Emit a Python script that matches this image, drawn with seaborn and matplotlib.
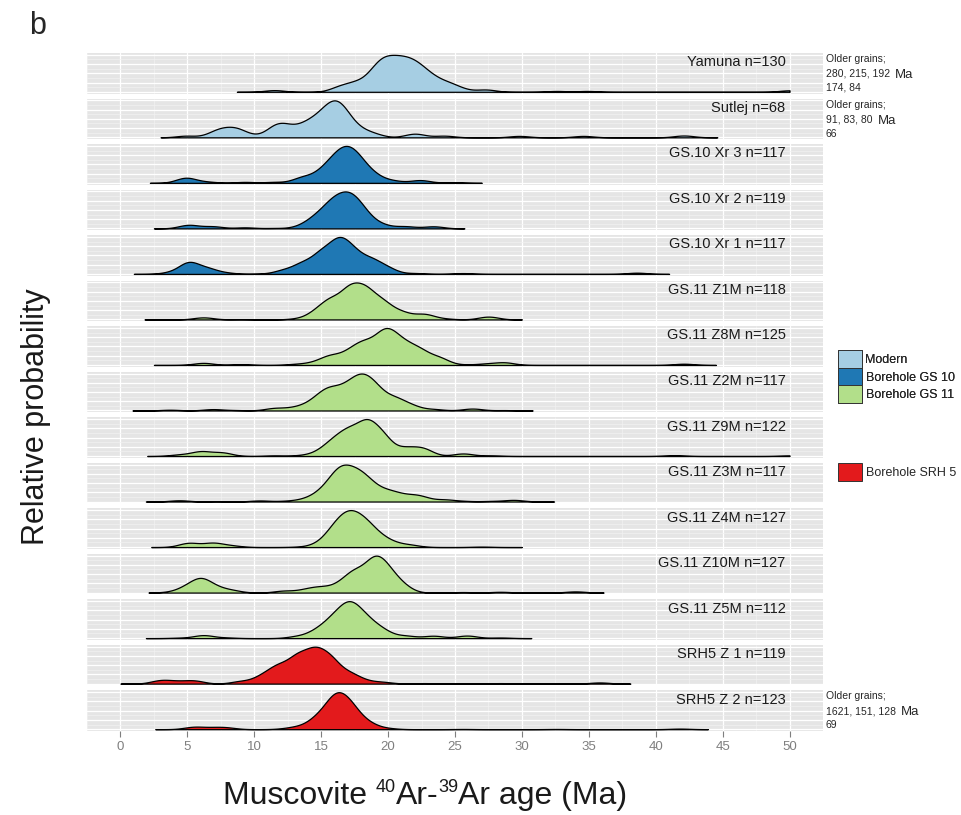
import numpy as np
import seaborn as sns
import matplotlib.pyplot as plt
from matplotlib.patches import Patch
from matplotlib.ticker import MultipleLocator

# sample labels (top to bottom) and their group
samples = ['Yamuna n=130', 'Sutlej n=68', 'GS.10 Xr 3 n=117', 'GS.10 Xr 2 n=119',
           'GS.10 Xr 1 n=117', 'GS.11 Z1M n=118', 'GS.11 Z8M n=125', 'GS.11 Z2M n=117',
           'GS.11 Z9M n=122', 'GS.11 Z3M n=117', 'GS.11 Z4M n=127', 'GS.11 Z10M n=127',
           'GS.11 Z5M n=112', 'SRH5 Z 1 n=119', 'SRH5 Z 2 n=123']
groups = ['Modern', 'Modern', 'Borehole GS 10', 'Borehole GS 10', 'Borehole GS 10',
          'Borehole GS 11', 'Borehole GS 11', 'Borehole GS 11', 'Borehole GS 11',
          'Borehole GS 11', 'Borehole GS 11', 'Borehole GS 11', 'Borehole GS 11',
          'Borehole SRH 5', 'Borehole SRH 5']
group_colors = {'Modern': '#A6CEE3', 'Borehole GS 10': '#1F78B4',
                'Borehole GS 11': '#B2DF8A', 'Borehole SRH 5': '#E31A1C'}

# grain age clusters (Ma) and relative weights
yamuna_age = [8.7, 11.5, 16.4, 17.6, 18.9, 19.7, 20.6, 21.5, 22.4, 23.4, 24.5, 25.4, 27.3, 32.6, 34.9, 50.0]
yamuna_w = [0, .09, .25, .39, .68, .98, .95, .95, .8, .48, .32, .12, .12, .045, .045, .08]
sutlej_age = [3.0, 4.9, 7.1, 7.9, 8.8, 10.1, 11.6, 12.6, 13.9, 15.0, 15.9, 16.7, 17.8, 18.9, 22.0, 24.2, 29.8, 34.6, 42.1, 44.6]
sutlej_w = [0, .08, .22, .24, .31, .05, .5, .36, .53, .7, 1.0, .82, .29, .15, .18, .08, .07, .07, .09, 0]
xr3_age = [2.2, 4.9, 6.5, 9.3, 11.5, 13.6, 15.0, 16.0, 16.9, 17.8, 18.9, 20.3, 22.4, 24.9, 27.0]
xr3_w = [0, .24, .05, .045, .045, .25, .4, .76, 1.0, .76, .31, .1, .13, .03, 0]
xr2_age = [2.5, 5.1, 6.9, 9.3, 11.5, 13.6, 14.6, 15.7, 16.7, 17.6, 18.5, 19.6, 21.3, 23.4, 25.7]
xr2_w = [0, .17, .1, .05, .02, .11, .42, .87, 1.0, .87, .33, .13, .1, .1, 0]
xr1_age = [1.0, 3.7, 5.1, 6.5, 7.9, 10.4, 12.2, 13.6, 15.0, 16.3, 17.4, 18.7, 19.9, 22.0, 25.6, 38.6, 41.0]
xr1_w = [0, .05, .4, .18, .04, .01, .13, .34, .65, 1.0, .61, .43, .2, .03, .03, .045, 0]
z1m_age = [1.8, 6.2, 9.0, 13.2, 14.6, 15.7, 17.1, 18.3, 19.6, 21.0, 22.7, 24.2, 27.5, 30.0]
z1m_w = [0, .08, .01, .03, .25, .62, 1.0, .94, .57, .25, .2, .03, .11, 0]
z8m_age = [2.5, 6.2, 9.0, 13.2, 14.6, 15.7, 17.1, 18.2, 19.5, 20.3, 21.3, 22.4, 23.8, 25.6, 27.3, 28.7, 42.1, 44.5]
z8m_w = [0, .1, .04, .05, .11, .38, .5, .82, 1.0, .86, .65, .56, .32, .02, .06, .12, .06, 0]
z2m_age = [0.9, 3.7, 6.9, 8.6, 11.5, 12.9, 13.9, 14.8, 15.6, 16.6, 17.5, 18.3, 19.2, 20.5, 21.7, 23.4, 26.3, 28.7, 30.8]
z2m_w = [0, .04, .07, .02, .12, .11, .18, .41, .71, .64, .87, 1.0, .73, .52, .23, .07, .1, .02, 0]
z9m_age = [2.0, 4.4, 6.0, 7.6, 11.5, 13.6, 15.0, 16.0, 17.1, 18.4, 19.6, 21.3, 22.6, 25.6, 27.7, 41.4, 50.0]
z9m_w = [0, .05, .16, .12, .02, .03, .15, .43, .7, 1.0, .61, .25, .25, .09, .02, .03, .02]
z3m_age = [1.9, 4.4, 7.2, 10.4, 12.5, 13.9, 15.0, 16.0, 16.7, 17.6, 18.5, 19.6, 20.5, 21.5, 22.4, 24.2, 25.6, 27.7, 29.4, 32.4]
z3m_w = [0, .07, .02, .06, .04, .13, .4, .85, .98, .98, .76, .38, .31, .18, .25, .11, .03, .03, .09, 0]
z4m_age = [2.3, 5.1, 6.9, 8.3, 13.2, 14.6, 15.7, 16.6, 17.5, 18.5, 19.6, 20.6, 21.7, 27.0, 30.0]
z4m_w = [0, .2, .2, .07, .01, .09, .5, .91, 1.0, .77, .32, .11, .09, .02, 0]
z10m_age = [2.1, 3.7, 4.9, 6.0, 7.1, 8.3, 12.2, 13.9, 15.0, 16.4, 17.5, 18.9, 19.9, 21.0, 25.6, 28.4, 34.0, 36.1]
z10m_w = [0, .02, .17, .45, .15, .08, .07, .11, .17, .25, .65, 1.0, .65, .25, .02, .03, .045, 0]
z5m_age = [1.9, 4.4, 6.2, 7.9, 13.2, 14.6, 15.7, 16.7, 17.5, 18.5, 19.6, 21.3, 23.4, 25.9, 28.4, 30.7]
z5m_w = [0, .02, .15, .03, .09, .3, .64, .96, .98, .62, .33, .12, .12, .13, .03, 0]
srh1_age = [0.0, 3.0, 4.2, 5.5, 9.0, 10.6, 11.8, 13.2, 14.5, 15.7, 17.1, 18.2, 19.6, 22.7, 28.4, 35.8, 38.1]
srh1_w = [0, .12, .07, .11, .09, .25, .55, .85, 1.0, .77, .32, .09, .06, .02, .02, .045, 0]
srh2_age = [2.6, 5.5, 6.9, 7.9, 12.2, 13.2, 14.6, 15.7, 16.4, 17.3, 18.5, 19.9, 25.6, 32.6, 41.8, 43.9]
srh2_w = [0, .12, .07, .08, .02, .11, .45, .84, 1.0, .82, .27, .05, .01, .01, .03, 0]

ages = [yamuna_age, sutlej_age, xr3_age, xr2_age, xr1_age, z1m_age, z8m_age, z2m_age,
        z9m_age, z3m_age, z4m_age, z10m_age, z5m_age, srh1_age, srh2_age]
weights = [yamuna_w, sutlej_w, xr3_w, xr2_w, xr1_w, z1m_w, z8m_w, z2m_w,
           z9m_w, z3m_w, z4m_w, z10m_w, z5m_w, srh1_w, srh2_w]

# older grains noted beside some panels
older_idx = [0, 1, 14]
older_ages = ['280, 215, 192', '91, 83, 80', '1621, 151, 128']
older_more = ['174, 84', '66', '69']

# x-axis title pieces: (text, superscript?)
xlabel_parts = [('Muscovite ', False), ('40', True), ('Ar-', False), ('39', True), ('Ar age (Ma)', False)]

bandwidth = 0.75  # Ma

sns.set_style('darkgrid', {'axes.facecolor': '#E5E5E5', 'grid.color': 'white'})
plt.rcParams['font.family'] = ['Liberation Sans', 'DejaVu Sans']

W, H = 961, 815
fig, axes = plt.subplots(15, 1, figsize=(W / 100, H / 100), dpi=100, sharex=True)
fig.subplots_adjust(left=87 / W, right=823 / W, top=1 - 53 / H, bottom=1 - 731 / H, hspace=0.12)

for i, ax in enumerate(axes):
    a = np.array(ages[i], float)
    w = np.array(weights[i], float)
    sd = np.sqrt(np.cov(a, aweights=w))
    sns.kdeplot(x=a, weights=w, ax=ax, fill=True, cut=0, bw_method=bandwidth / sd,
                gridsize=800, color=group_colors[groups[i]], alpha=1,
                edgecolor='black', linewidth=0.9)
    top = ax.collections[-1].get_paths()[0].vertices[:, 1].max()
    ax.set_ylim(-0.05 * top, 1.05 * top)
    ax.set_xlim(-2.5, 52.5)
    ax.set_ylabel('')
    ax.set_xticks(range(0, 51, 5))
    ax.xaxis.set_minor_locator(MultipleLocator(2.5))
    ax.set_yticks(np.arange(0, 1.01, 0.25) * top)
    ax.set_yticks(np.arange(0.125, 1.1, 0.25) * top, minor=True)
    ax.grid(which='major', color='white', linewidth=0.9)
    ax.grid(which='minor', color='#F2F2F2', linewidth=0.45)
    ax.set_axisbelow(True)
    for s in ax.spines.values():
        s.set_visible(False)
    ax.tick_params(axis='y', which='both', left=False, labelleft=False)
    ax.tick_params(axis='x', which='both', length=0)
    ax.text(49.7, 0.77, samples[i], transform=ax.get_xaxis_transform(),
            ha='right', va='center', fontsize=10.5, color='#1A1A1A')

bottom = axes[-1]
bottom.tick_params(axis='x', which='major', length=4, width=0.8, color='#7F7F7F',
                   labelcolor='#7F7F7F', labelsize=9.5, pad=3, bottom=True, labelbottom=True)

fig.canvas.draw()
renderer = fig.canvas.get_renderer()

# notes on older grains, right of the panels
for k, i in enumerate(older_idx):
    y0 = axes[i].get_position().y1
    fig.text(826 / W, y0 - 6 / H, 'Older grains;', fontsize=7.5, va='center', ha='left')
    t = fig.text(826 / W, y0 - 21 / H, older_ages[k], fontsize=7.5, va='center', ha='left')
    fig.text(826 / W, y0 - 35 / H, older_more[k], fontsize=7.5, va='center', ha='left')
    bb = t.get_window_extent(renderer)
    fig.text((bb.x1 + 5) / W, y0 - 22 / H, 'Ma', fontsize=9.5, va='center', ha='left')

# legend
def patch(g):
    return Patch(facecolor=group_colors[g], edgecolor='#333333', linewidth=0.7, label=g)

leg_kw = dict(frameon=False, fontsize=9, handlelength=1.9, handleheight=1.8,
              labelspacing=0, handletextpad=0.3, borderpad=0, borderaxespad=0,
              loc='upper left')
leg1 = fig.legend(handles=[patch(g) for g in ['Modern', 'Borehole GS 10', 'Borehole GS 11']],
                  bbox_to_anchor=(838 / W, 1 - 350 / H), **leg_kw)
fig.add_artist(leg1)
fig.legend(handles=[patch('Borehole SRH 5')], bbox_to_anchor=(838 / W, 1 - 463 / H), **leg_kw)

# x-axis title with small raised isotope numbers
pieces = []
for txt, sup in xlabel_parts:
    t = fig.text(0, 1 - (792 if sup else 804) / H, txt, fontsize=13 if sup else 23,
                 ha='left', va='baseline', color='#1A1A1A')
    pieces.append(t)
widths = [p.get_window_extent(renderer).width for p in pieces]
x = 425 - sum(widths) / 2
for p, wd in zip(pieces, widths):
    p.set_x(x / W)
    x += wd

fig.text(36 / W, 1 - 417 / H, 'Relative probability', rotation=90,
         fontsize=22, ha='center', va='center', color='#1A1A1A')
fig.text(38 / W, 1 - 26 / H, 'b', fontsize=22, ha='center', va='center')

fig.savefig('out.png', dpi=100)
